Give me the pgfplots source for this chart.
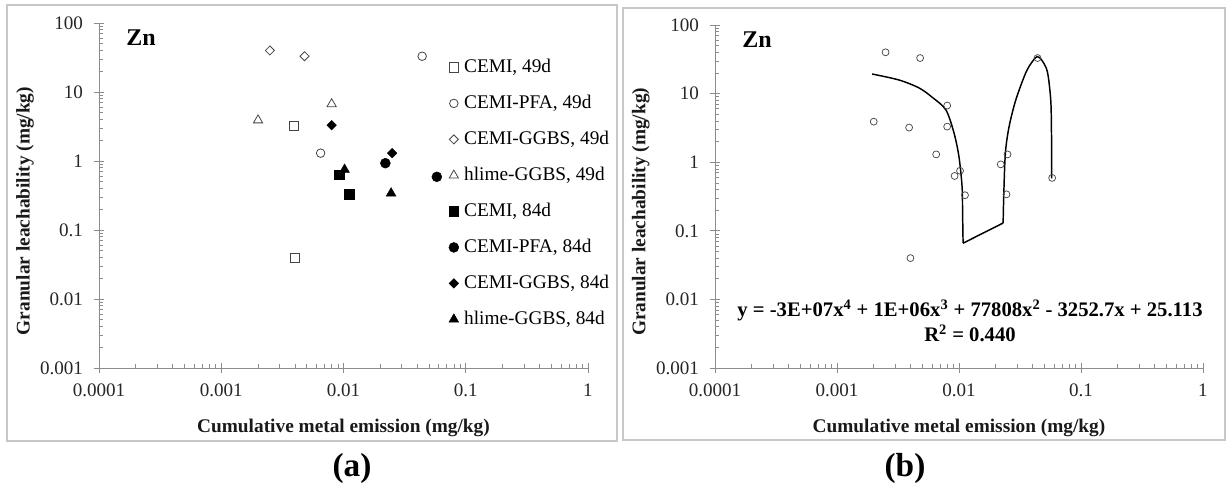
\documentclass[border=0pt]{standalone}
\usepackage{pgfplots}
\pgfplotsset{compat=1.18}
\usepackage{fontspec}
\setmainfont{Liberation Serif}
\definecolor{axgray}{HTML}{8C8C8C}
\definecolor{mkgray}{HTML}{454545}
\definecolor{framegray}{HTML}{C8C8C8}

\begin{document}
\begin{tikzpicture}
\useasboundingbox (0,0) rectangle (919.5pt,364.5pt);
\draw[framegray, line width=0.8pt] (5.25pt,360.75pt) rectangle (462.75pt,33.75pt);
\draw[framegray, line width=0.8pt] (467.25pt,358.5pt) rectangle (918.75pt,34.5pt);

\begin{axis}[
  scale only axis,
  xmode=log, ymode=log,
  xmin=1e-4, xmax=1, ymin=1e-3, ymax=100,
  axis x line=bottom, axis y line=left,
  axis line style={-, draw=axgray, line width=0.6pt},
  xtick={1e-4,1e-3,1e-2,1e-1,1},
  xticklabels={0.0001,0.001,0.01,0.1,1},
  ytick={1e-3,1e-2,1e-1,1,10,100},
  yticklabels={0.001,0.01,0.1,1,10,100},
  tick align=inside,
  major tick length=7.5pt,
  minor tick length=3pt,
  every major x tick/.append style={yshift=-3.75pt},
  every major y tick/.append style={xshift=-3.75pt},
  tick style={draw=axgray, line width=0.5pt},
  ticklabel style={font=\fontsize{14.3}{16}\selectfont, text=black!85},
  xticklabel style={yshift=-8.5pt},
  yticklabel style={xshift=-8.5pt},
  label style={font=\fontsize{14.5}{17}\selectfont\bfseries, text=black!90},
  xlabel={Cumulative metal emission (mg/kg)},
  ylabel={Granular leachability (mg/kg)},
  xlabel style={at={(axis description cs:0.5,-0.174)}, anchor=center},
  clip=false,
  at={(74.25pt,88.5pt)}, anchor=south west,
  width=366.75pt, height=258.75pt,
  ylabel style={at={(axis description cs:-0.151,0.455)}, anchor=center},
  legend style={at={(axis description cs:0.715,0.901)}, anchor=north west,
    draw=none, fill=none, inner sep=0pt, row sep=12pt, column sep=3pt,
    font=\fontsize{14.5}{17}\selectfont,
    nodes={inner sep=1pt, text height=10pt, text depth=3pt}},
  legend cell align=left,
]
\addplot[only marks, color=mkgray, mark=square, mark size=3.4pt, mark options={fill=white, line width=0.6pt}]
  coordinates {(0.0039,3.2) (0.004,0.04)};
\addlegendentry{CEMI, 49d}
\addplot[only marks, color=mkgray, mark=o, mark size=3.2pt, mark options={line width=0.6pt}]
  coordinates {(0.0065,1.3) (0.044,33)};
\addlegendentry{CEMI-PFA, 49d}
\addplot[only marks, color=mkgray, mark=square, mark size=2.4pt, mark options={rotate=45, fill=white, line width=0.6pt}]
  coordinates {(0.0025,40) (0.0048,33)};
\addlegendentry{CEMI-GGBS, 49d}
\addplot[only marks, color=mkgray, mark=triangle, mark size=4pt, mark options={line width=0.6pt}]
  coordinates {(0.002,3.9) (0.008,6.7)};
\addlegendentry{hlime-GGBS, 49d}
\addplot[only marks, color=black, mark=square*, mark size=3.6pt]
  coordinates {(0.0092,0.63) (0.0112,0.33)};
\addlegendentry{CEMI, 84d}
\addplot[only marks, color=black, mark=*, mark size=3.7pt]
  coordinates {(0.022,0.93) (0.058,0.59)};
\addlegendentry{CEMI-PFA, 84d}
\addplot[only marks, color=black, mark=square*, mark size=2.5pt, mark options={rotate=45}]
  coordinates {(0.008,3.3) (0.025,1.3)};
\addlegendentry{CEMI-GGBS, 84d}
\addplot[only marks, color=black, mark=triangle*, mark size=4.2pt]
  coordinates {(0.0102,0.75) (0.0245,0.34)};
\addlegendentry{hlime-GGBS, 84d}
\node[font=\fontsize{18}{20}\selectfont\bfseries, anchor=center] at (axis description cs:0.086,0.959) {Zn};
\end{axis}

\begin{axis}[
  scale only axis,
  xmode=log, ymode=log,
  xmin=1e-4, xmax=1, ymin=1e-3, ymax=100,
  axis x line=bottom, axis y line=left,
  axis line style={-, draw=axgray, line width=0.6pt},
  xtick={1e-4,1e-3,1e-2,1e-1,1},
  xticklabels={0.0001,0.001,0.01,0.1,1},
  ytick={1e-3,1e-2,1e-1,1,10,100},
  yticklabels={0.001,0.01,0.1,1,10,100},
  tick align=inside,
  major tick length=7.5pt,
  minor tick length=3pt,
  every major x tick/.append style={yshift=-3.75pt},
  every major y tick/.append style={xshift=-3.75pt},
  tick style={draw=axgray, line width=0.5pt},
  ticklabel style={font=\fontsize{14.3}{16}\selectfont, text=black!85},
  xticklabel style={yshift=-8.5pt},
  yticklabel style={xshift=-8.5pt},
  label style={font=\fontsize{14.5}{17}\selectfont\bfseries, text=black!90},
  xlabel={Cumulative metal emission (mg/kg)},
  ylabel={Granular leachability (mg/kg)},
  xlabel style={at={(axis description cs:0.5,-0.174)}, anchor=center},
  clip=false,
  at={(536.25pt,88.5pt)}, anchor=south west,
  width=366pt, height=257.25pt,
  ylabel style={at={(axis description cs:-0.152,0.455)}, anchor=center},
]
\addplot[only marks, color=mkgray, mark=o, mark size=2.6pt, mark options={line width=0.55pt}]
  coordinates {(0.0039,3.2) (0.004,0.04) (0.0065,1.3) (0.044,33) (0.0025,40) (0.0048,33)
   (0.002,3.9) (0.008,6.7) (0.0092,0.63) (0.0112,0.33) (0.022,0.93) (0.058,0.59)
   (0.008,3.3) (0.025,1.3) (0.0102,0.75) (0.0245,0.34)};
\addplot[black, line width=1.1pt, smooth, tension=0.5] coordinates {
  (0.00194,19.3) (0.00322,15.8) (0.0047,12.1) (0.006,8.9) (0.0078,5.8) (0.0091,2.67)
  (0.0100,1.19) (0.0106,0.436) (0.0107,0.18) (0.0108,0.066)};
\addplot[black, line width=1.1pt] coordinates {(0.0108,0.066) (0.0230,0.130)};
\addplot[black, line width=1.1pt, smooth, tension=0.5] coordinates {
  (0.0230,0.130) (0.0233,0.356) (0.0240,1.36) (0.0257,3.26) (0.0292,8.07) (0.0352,20)
  (0.0397,28.9) (0.0436,34.6) (0.0475,31) (0.0530,20.9) (0.0565,8.0) (0.0573,2.6) (0.0575,0.58)};
\node[font=\fontsize{18}{20}\selectfont\bfseries, anchor=center] at (axis description cs:0.086,0.956) {Zn};
\node[font=\fontsize{15.5}{18}\selectfont\bfseries, anchor=center] at (axis description cs:0.5225,0.169)
  {y = -3E+07x\textsuperscript{4} + 1E+06x\textsuperscript{3} + 77808x\textsuperscript{2} - 3252.7x + 25.113};
\node[font=\fontsize{15.5}{18}\selectfont\bfseries, anchor=center] at (axis description cs:0.5225,0.102)
  {R\textsuperscript{2} = 0.440};
\end{axis}

\node[font=\fontsize{25}{28}\selectfont\bfseries] at (264pt,13.5pt) {(a)};
\node[font=\fontsize{25}{28}\selectfont\bfseries] at (678.75pt,13.5pt) {(b)};
\end{tikzpicture}
\end{document}
